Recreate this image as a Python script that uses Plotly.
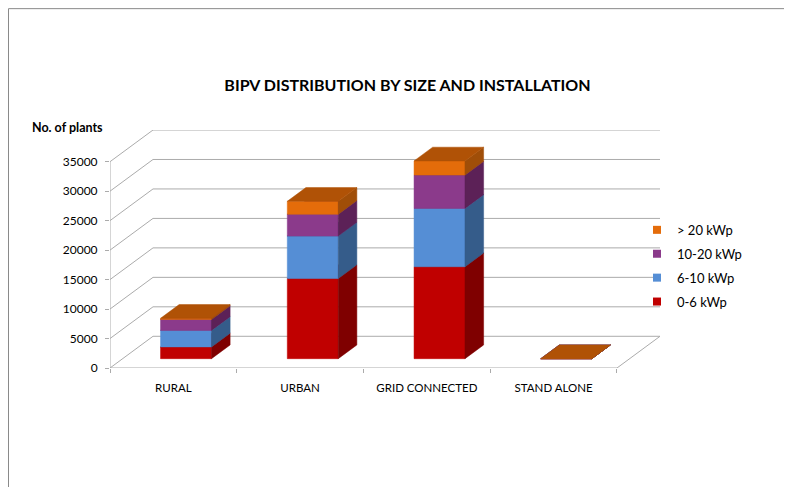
import plotly.graph_objects as go

categories = ["RURAL", "URBAN", "GRID CONNECTED", "STAND ALONE"]
s_0_6 = [2000, 13600, 15600, 0]
s_6_10 = [2800, 7200, 9900, 0]
s_10_20 = [1850, 3700, 5650, 0]
s_20 = [200, 2200, 2400, 0]
y_ticks = [0, 5000, 10000, 15000, 20000, 25000, 30000, 35000]

series = [
    ("0-6 kWp", s_0_6, "#C00000", "#7F0000", "#9A0000"),
    ("6-10 kWp", s_6_10, "#558ED5", "#355C8A", "#3E6DA6"),
    ("10-20 kWp", s_10_20, "#8B3A8B", "#5C2157", "#6E2C6C"),
    ("> 20 kWp", s_20, "#E46C0A", "#A04E08", "#B05206"),
]

# oblique projection constants (style)
DX = 0.3393      # depth shift in category units
DY = 5380        # depth shift in value units
D0, D1 = 0.294, 0.727
HW = 0.201
GRID = "#ababab"
FONT = "Lato, 'Open Sans', sans-serif"
OFF = 8          # page body margin compensation


def proj(x, v, d):
    return x + d * DX, v + d * DY


fig = go.Figure()

# grid (side wall + back wall)
gx, gy = [], []
for v in y_ticks:
    for (x, d) in [(0, 0), (0, 1), (len(categories), 1)]:
        px, py = proj(x, v, d)
        gx.append(px); gy.append(py)
    gx.append(None); gy.append(None)
for pts in [[(0, 0, 0), (len(categories), 0, 0), (len(categories), 0, 1)],
            [(0, 0, 0), (0, y_ticks[-1], 0)]]:
    for (x, v, d) in pts:
        px, py = proj(x, v, d)
        gx.append(px); gy.append(py)
    gx.append(None); gy.append(None)
fig.add_trace(go.Scatter(x=gx, y=gy, mode="lines", line=dict(color=GRID, width=1),
                         hoverinfo="skip", showlegend=False))

base = [0] * len(categories)
for name, vals, cfront, cside, ctop in series:
    fx, fy, sx, sy, tx, ty = [], [], [], [], [], []
    for i, val in enumerate(vals):
        b = base[i]
        t = b + val
        x0 = i + 0.5 - HW
        x1 = i + 0.5 + HW
        faces = [
            (fx, fy, [(x0, b, D0), (x1, b, D0), (x1, t, D0), (x0, t, D0)]),
            (sx, sy, [(x1, b, D0), (x1, b, D1), (x1, t, D1), (x1, t, D0)]),
            (tx, ty, [(x0, t, D0), (x1, t, D0), (x1, t, D1), (x0, t, D1)]),
        ]
        for lx, ly, pts in faces:
            for (x, v, d) in pts + [pts[0]]:
                px, py = proj(x, v, d)
                lx.append(px); ly.append(py)
            lx.append(None); ly.append(None)
        base[i] = t
    for lx, ly, col in [(fx, fy, cfront), (sx, sy, cside), (tx, ty, ctop)]:
        fig.add_trace(go.Scatter(x=lx, y=ly, mode="lines", fill="toself",
                                 fillcolor=col, line=dict(color=col, width=0.5),
                                 hoverinfo="skip", showlegend=False))

# legend entries
for name, vals, cfront, cside, ctop in reversed(series):
    fig.add_trace(go.Scatter(x=[None], y=[None], mode="markers", name=name,
                             legendgroup=name,
                             marker=dict(symbol="square", size=8, color=cfront)))

W, H = 792, 487
L, R, T, B = 110 - OFF, 660 - OFF, 130 - OFF, 368.3 - OFF
xmax = len(categories) + DX
ymax = y_ticks[-1] + DY


def px_x(p):
    return (p - OFF - L) / (R - L)


def px_y(p):
    return (B - (p - OFF)) / (B - T)


fig.update_layout(
    width=W, height=H,
    margin=dict(l=L, r=W - R, t=T, b=H - B, pad=0),
    paper_bgcolor="white", plot_bgcolor="white",
    font=dict(family=FONT, size=11, color="#000000"),
    title=dict(text="<b>BIPV DISTRIBUTION BY SIZE AND INSTALLATION</b>",
               x=(407.5 - OFF) / W, xanchor="center", xref="container",
               y=1 - (85 - OFF) / H, yanchor="middle", yref="container",
               font=dict(family=FONT, size=16, color="#000000")),
    xaxis=dict(range=[0, xmax], showgrid=False, zeroline=False, showline=False,
               tickvals=[i + 0.5 for i in range(len(categories))],
               ticktext=categories, ticks="", ticklabelstandoff=11,
               tickfont=dict(size=11.5),
               minor=dict(tickvals=list(range(len(categories) + 1)), ticks="outside",
                          ticklen=4, tickcolor=GRID, tickwidth=1),
               fixedrange=True),
    yaxis=dict(range=[0, ymax], showgrid=False, zeroline=False, showline=False,
               tickvals=y_ticks, ticktext=[str(v) for v in y_ticks],
               ticks="outside", ticklen=4, tickcolor=GRID, ticklabelstandoff=5,
               tickfont=dict(size=12), fixedrange=True),
    legend=dict(x=px_x(637), xanchor="left", y=px_y(215),
                yanchor="top", bgcolor="rgba(0,0,0,0)", traceorder="grouped",
                tracegroupgap=4, font=dict(size=13), itemwidth=30),
    annotations=[dict(text="<b>No. of plants</b>", xref="paper", yref="paper",
                      x=px_x(30), xanchor="left",
                      y=px_y(127), yanchor="middle",
                      showarrow=False, font=dict(size=12.5))],
    shapes=[dict(type="rect", xref="paper", yref="paper",
                 x0=px_x(OFF + 0.5), x1=px_x(820),
                 y0=px_y(520), y1=px_y(OFF + 0.5),
                 line=dict(color="#8a8a8a", width=1), fillcolor="rgba(0,0,0,0)",
                 layer="below")],
)

fig.write_html("out.html")
